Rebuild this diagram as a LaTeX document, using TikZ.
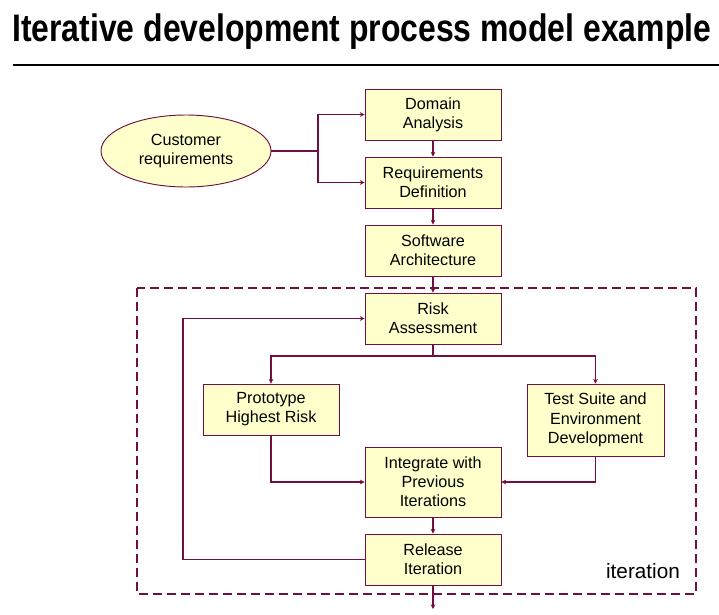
\documentclass[tikz,border=0pt]{standalone}
\usepackage{fontspec}
\setmainfont{Liberation Sans}
\usepackage{graphicx}
\usetikzlibrary{arrows.meta,shapes.geometric}
\definecolor{wine}{RGB}{112,16,64}
\definecolor{paleyel}{RGB}{255,255,204}

\begin{document}
\begin{tikzpicture}[x=0.03cm,y=-0.03cm,
	box/.style={draw=wine,fill=paleyel,line width=0.8pt,minimum width=4.08cm,minimum height=1.53cm,inner sep=0pt,align=center,font=\fontsize{13.8}{16.4}\selectfont},
	conn/.style={draw=wine,line width=1.2pt},
	arr/.style={conn,-{Stealth[length=4pt,width=4pt]}}]
			%%%%% START %%%%%
			
			\useasboundingbox (0,0) rectangle (719,615);
			
			\node[anchor=base west,inner sep=0pt] (title) at (12,41.7) {\resizebox{20.97cm}{\height}{\fontsize{32.7}{36}\selectfont\bfseries Iterative development process model example}};
			\draw[line width=1pt] (12.7,65) -- (719,65);
			
			\draw[wine,line width=1.5pt,dash pattern=on 0.27cm off 0.15cm] (137,288) rectangle (696,594);
			\node[anchor=base,font=\fontsize{17.7}{20}\selectfont] (itlabel) at (643,578) {iteration};
			
			\node[ellipse,draw=wine,fill=paleyel,line width=0.8pt,minimum width=5.1cm,minimum height=2.16cm,inner sep=0pt,align=center,font=\fontsize{13.8}{16.4}\selectfont] (cust) at (186,151) {Customer\\requirements};
			
			\node[box] (dom) at (433,114.5) {Domain\\Analysis};
			\node[box] (req) at (433,182.5) {Requirements\\Definition};
			\node[box] (arch) at (433,250.5) {Software\\Architecture};
			\node[box] (risk) at (433,318.5) {Risk\\Assessment};
			\node[box] (proto) at (271,409.5) {Prototype\\Highest Risk};
			\node[box,minimum width=4.11cm,minimum height=2.16cm] (test) at (595.5,420) {Test Suite and\\Environment\\Development};
			\node[box,minimum height=2.1cm] (integ) at (433,482) {Integrate with\\Previous\\Iterations};
			\node[box] (rel) at (433,559.5) {Release\\Iteration};
			
			\coordinate (split) at (318,151);
			\coordinate (fork) at (433,356);
			\coordinate (back) at (183,559.5);
			\coordinate (out) at (433,609);
			
			\draw[conn] (cust.east) -- (split);
			\draw[arr] (split) |- (dom.west);
			\draw[arr] (split) |- (req.west);
			\draw[arr] (dom) -- (req);
			\draw[arr] (req) -- (arch);
			\draw[arr] (arch) -- (risk);
			
			\draw[conn] (risk) -- (fork);
			\draw[arr] (fork) -| (proto.north);
			\draw[arr] (fork) -| (test.north);
			\draw[arr] (proto.south) |- (integ.west);
			\draw[arr] (test.south) |- (integ.east);
			\draw[arr] (integ) -- (rel);
			\draw[arr] (rel.west) -- (back) |- (risk.west);
			\draw[arr] (rel) -- (out);
			
			%%%%% END %%%%%
\end{tikzpicture}
\end{document}
